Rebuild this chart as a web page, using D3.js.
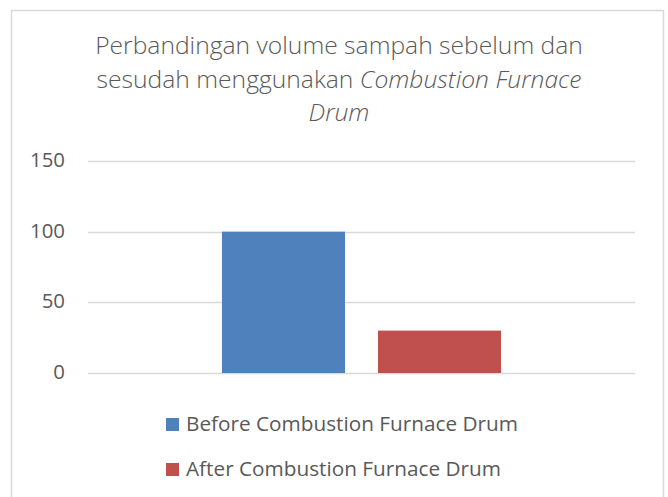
<!DOCTYPE html>
<html><head><meta charset="utf-8">
<script src="https://cdn.jsdelivr.net/npm/d3@7"></script>
<style>html,body{margin:0;padding:0;background:#fff;}svg{display:block;}text{font-family:"Open Sans",sans-serif;fill:#595959;}</style>
</head><body>
<script>
const categories = ["Volume sampah"];
const seriesNames = ["Before Combustion Furnace Drum", "After Combustion Furnace Drum"];
const seriesValues = [100, 30];
const seriesColors = ["#4F81BD", "#C0504D"];
const yTicks = [0, 50, 100, 150];

const W = 668, H = 497;
const svg = d3.select("body").append("svg").attr("width", W).attr("height", H);
svg.append("rect").attr("width", W).attr("height", H).attr("fill", "#fff");
svg.append("rect").attr("x", 11.5).attr("y", 10.5).attr("width", 652).attr("height", 520)
  .attr("fill", "none").attr("stroke", "#d9d9d9").attr("stroke-width", 1.5);

const y = d3.scaleLinear().domain([0, 150]).range([373, 161]);
const x0 = d3.scaleBand().domain(categories).range([88, 635]).paddingInner(0).paddingOuter(0.48);
const x1 = d3.scaleBand().domain(seriesNames).range([0, x0.bandwidth()]).paddingInner(0.2115).paddingOuter(0);

// gridlines
svg.append("g").selectAll("line").data(yTicks).join("line")
  .attr("x1", 88).attr("x2", 635)
  .attr("y1", d => Math.round(y(d)) + 0.5).attr("y2", d => Math.round(y(d)) + 0.5)
  .attr("stroke", "#d9d9d9").attr("stroke-width", 1.5);

// y labels
function fit(sel, target) {
  sel.each(function () {
    const t = d3.select(this);
    const fs = parseFloat(t.attr("font-size"));
    const w = this.getComputedTextLength();
    t.attr("font-size", (fs * target / w).toFixed(2));
  });
}
const yl = svg.append("g").selectAll("text").data(yTicks).join("text")
  .attr("x", 65).attr("y", d => y(d) + 6).attr("text-anchor", "end")
  .attr("font-size", 18).text(d => d);
// scale based on "150" width 35px
const probe = yl.filter(d => d === 150).node();
const ys = 18 * 35 / probe.getComputedTextLength();
yl.attr("font-size", ys.toFixed(2));

// bars
const g = svg.append("g").selectAll("g").data(categories).join("g")
  .attr("transform", d => `translate(${x0(d)},0)`);
g.selectAll("rect").data(() => seriesNames.map((s, i) => ({ s, v: seriesValues[i], c: seriesColors[i] })))
  .join("rect")
  .attr("x", d => x1(d.s)).attr("width", x1.bandwidth())
  .attr("y", d => y(d.v)).attr("height", d => y(0) - y(d.v))
  .attr("fill", d => d.c);

// title
const title = svg.append("text").attr("text-anchor", "middle").attr("font-size", 22).attr("font-weight", 300);
const l1 = title.append("tspan").attr("x", 339).attr("y", 54).text("Perbandingan volume sampah sebelum dan");
const l2 = title.append("tspan").attr("x", 339).attr("y", 88);
l2.append("tspan").text("sesudah menggunakan ");
l2.append("tspan").attr("font-style", "italic").text("Combustion Furnace");
const l3 = title.append("tspan").attr("x", 339).attr("y", 121).attr("font-style", "italic").text("Drum");
const tw = l1.node().getComputedTextLength();
title.attr("font-size", (22 * 488 / tw).toFixed(2));

// legend
const lg = svg.append("g").selectAll("g").data(seriesNames).join("g")
  .attr("transform", (d, i) => `translate(166,${418 + i * 45})`);
lg.append("rect").attr("width", 13).attr("height", 13).attr("fill", (d, i) => seriesColors[i]);
const lt = lg.append("text").attr("x", 20).attr("y", 13).attr("font-size", 18).text(d => d);
const lw = lt.filter((d, i) => i === 0).node().getComputedTextLength();
lt.attr("font-size", (18 * 332 / lw).toFixed(2));
</script>
</body></html>
